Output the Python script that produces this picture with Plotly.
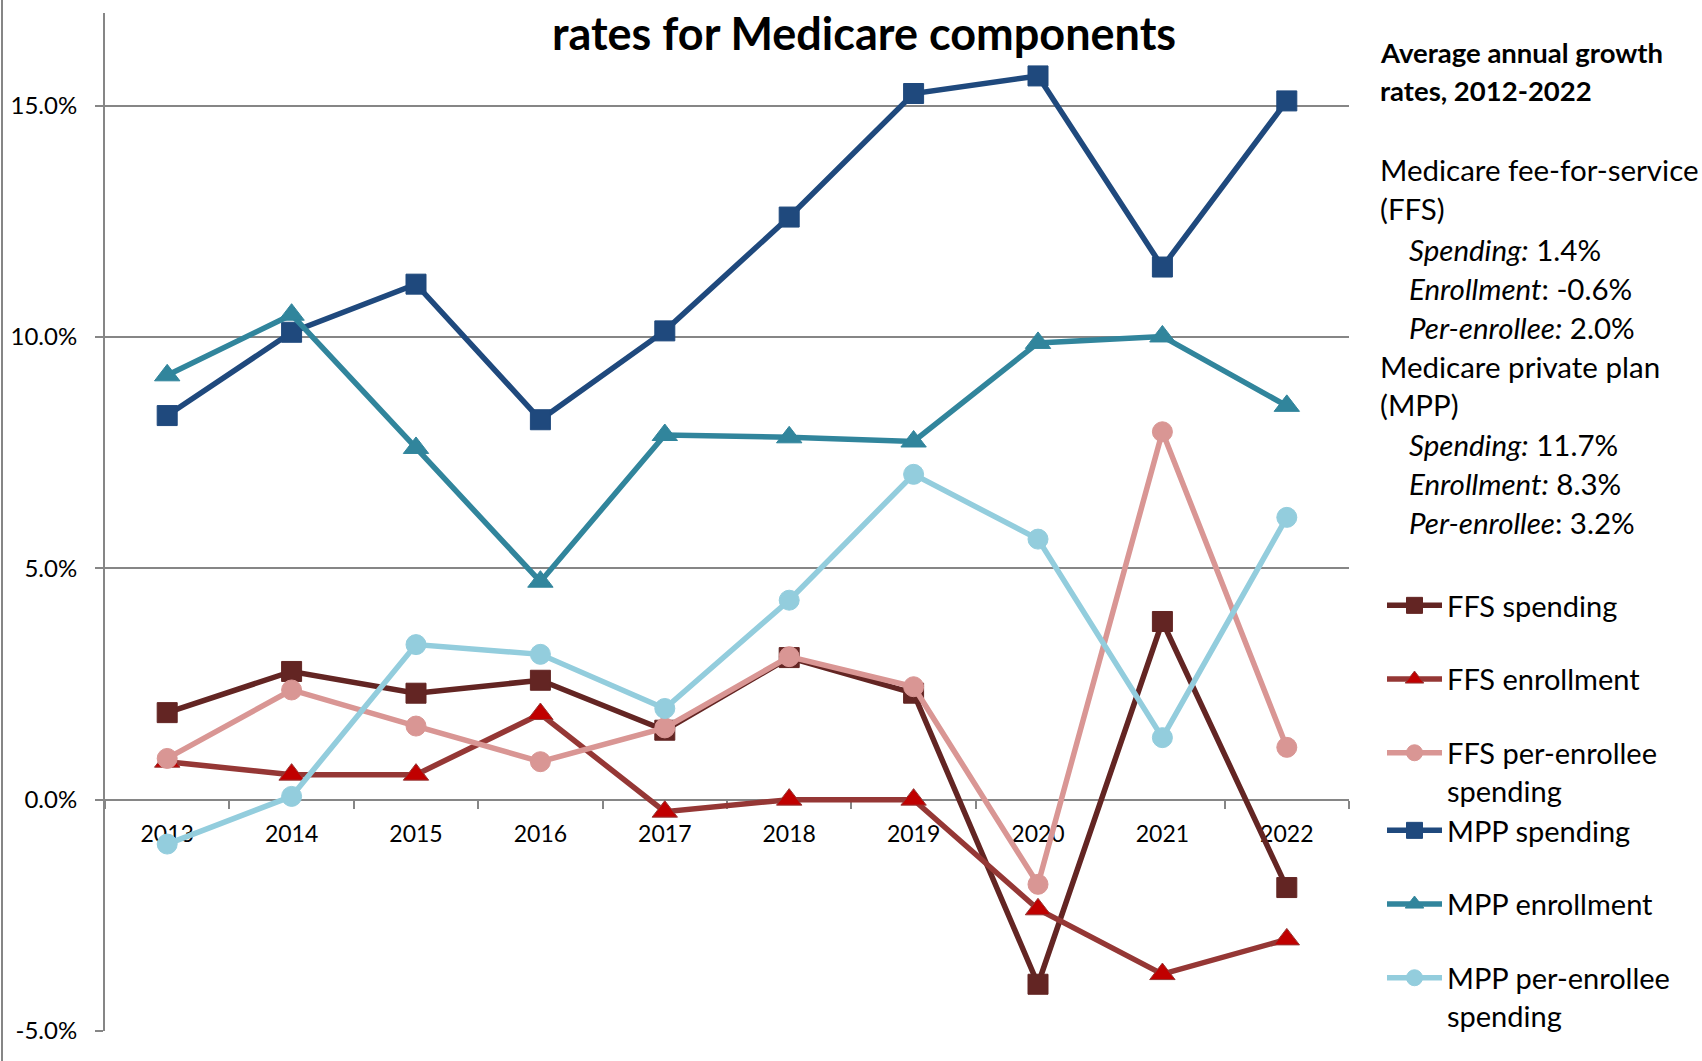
import plotly.graph_objects as go

# ---------------- data ----------------
years = ["2013", "2014", "2015", "2016", "2017", "2018", "2019", "2020", "2021", "2022"]

ffs_spending = [1.88, 2.77, 2.30, 2.58, 1.50, 3.07, 2.30, -3.99, 3.85, -1.90]
ffs_enrollment = [0.82, 0.54, 0.54, 1.85, -0.26, 0.00, 0.00, -2.37, -3.77, -3.02]
ffs_per_enrollee = [0.89, 2.37, 1.59, 0.82, 1.55, 3.09, 2.44, -1.83, 7.95, 1.13]
mpp_spending = [8.30, 10.10, 11.14, 8.21, 10.13, 12.59, 15.26, 15.64, 11.51, 15.10]
mpp_enrollment = [9.17, 10.48, 7.60, 4.71, 7.88, 7.83, 7.74, 9.87, 10.01, 8.51]
mpp_per_enrollee = [-0.96, 0.07, 3.35, 3.14, 1.97, 4.31, 7.03, 5.63, 1.34, 6.10]

series_names = ["FFS spending", "FFS enrollment", "FFS per-enrollee<br>spending",
                "MPP spending", "MPP enrollment", "MPP per-enrollee<br>spending"]

y_tick_vals = [-5, 0, 5, 10, 15]
y_tick_text = ["-5.0%", "0.0%", "5.0%", "10.0%", "15.0%"]

title_text = "rates for Medicare components"
summary_header = ["Average annual growth", "rates, 2012-2022"]
summary_lines = [
    ("Medicare fee-for-service", 0),
    ("(FFS)", 0),
    ("<i>Spending:</i> 1.4%", 1),
    ("<i>Enrollment</i>: -0.6%", 1),
    ("<i>Per-enrollee:</i> 2.0%", 1),
    ("Medicare private plan", 0),
    ("(MPP)", 0),
    ("<i>Spending:</i> 11.7%", 1),
    ("<i>Enrollment:</i> 8.3%", 1),
    ("<i>Per-enrollee</i>: 3.2%", 1),
]

# ---------------- layout geometry ----------------
W, H = 1702, 1061
L, R, T, B = 105, 1349, 13, 1031
PW, PH = R - L, B - T


def px2x(px):
    return (px - L) / PW


def px2y(py):
    return (B - py) / PH


FONT = "Lato"
GRAY = "#868686"

styles = [
    dict(color="#632523", symbol="square", fill="#632523", size=20),
    dict(color="#953735", symbol="triangle-up", fill="#C00000", size=22),
    dict(color="#D99694", symbol="circle", fill="#D99694", size=20),
    dict(color="#1F497D", symbol="square", fill="#1F497D", size=20),
    dict(color="#31859C", symbol="triangle-up", fill="#31859C", size=22),
    dict(color="#93CDDD", symbol="circle", fill="#93CDDD", size=20),
]
all_series = [ffs_spending, ffs_enrollment, ffs_per_enrollee,
              mpp_spending, mpp_enrollment, mpp_per_enrollee]

fig = go.Figure()
for i, (name, vals, st) in enumerate(zip(series_names, all_series, styles)):
    fig.add_trace(go.Scatter(
        x=years, y=vals, name=name, mode="lines+markers",
        legendgroup=str(i),
        legend="legend" if i < 3 else "legend2",
        line=dict(color=st["color"], width=5.5),
        marker=dict(symbol=st["symbol"], size=st["size"], color=st["fill"],
                    line=dict(color=st["color"], width=1)),
    ))

annotations = [
    dict(text="<b>" + title_text + "</b>", x=px2x(864), y=px2y(33),
         xref="paper", yref="paper", showarrow=False, xanchor="center", yanchor="middle",
         font=dict(family=FONT, size=45, color="#000000")),
]
header_y = [53, 91]
for t, yy in zip(summary_header, header_y):
    annotations.append(dict(text="<b>" + t + "</b>", x=px2x(1378), y=px2y(yy),
                            xref="paper", yref="paper", showarrow=False,
                            xanchor="left", yanchor="middle",
                            font=dict(family=FONT, size=27.5, color="#000000")))
line_y = [169, 209, 249, 288, 327, 366, 405, 444, 483, 522]
for (t, ind), yy in zip(summary_lines, line_y):
    annotations.append(dict(text=t, x=px2x(1378 + 29 * ind), y=px2y(yy),
                            xref="paper", yref="paper", showarrow=False,
                            xanchor="left", yanchor="middle",
                            font=dict(family=FONT, size=29.5, color="#000000")))

legend_common = dict(xanchor="left", yanchor="top", valign="top",
                     font=dict(family=FONT, size=29, color="#000000"),
                     tracegroupgap=33, itemwidth=55, bgcolor="rgba(0,0,0,0)")

fig.update_layout(
    width=W, height=H,
    margin=dict(l=L, r=W - R, t=T, b=H - B, autoexpand=False),
    paper_bgcolor="white", plot_bgcolor="white",
    font=dict(family=FONT, color="#000000"),
    showlegend=True,
    legend=dict(x=px2x(1382), y=px2y(580), **legend_common),
    legend2=dict(x=px2x(1382), y=px2y(805), **legend_common),
    annotations=annotations,
    shapes=[dict(type="line", xref="paper", yref="paper",
                 x0=px2x(2), x1=px2x(2), y0=px2y(0), y1=px2y(H),
                 line=dict(color=GRAY, width=2))],
)

fig.update_xaxes(
    type="category", range=[-0.5, 9.5],
    anchor="free", position=px2y(800),
    showline=True, linecolor=GRAY, linewidth=2,
    ticks="outside", tickson="boundaries", ticklen=8, tickcolor=GRAY, tickwidth=2,
    ticklabelstandoff=13,
    showgrid=False, zeroline=False,
    tickfont=dict(family=FONT, size=23, color="#000000"),
    layer="below traces",
)
fig.update_yaxes(
    range=[-5, 17.0], tickvals=y_tick_vals, ticktext=y_tick_text,
    showline=True, linecolor=GRAY, linewidth=2,
    ticks="outside", ticklen=8, tickcolor=GRAY, tickwidth=2,
    ticklabelstandoff=13,
    showgrid=True, gridcolor=GRAY, gridwidth=2, zeroline=False,
    tickfont=dict(family=FONT, size=24, color="#000000"),
    layer="below traces",
)

fig.write_html("out.html")
